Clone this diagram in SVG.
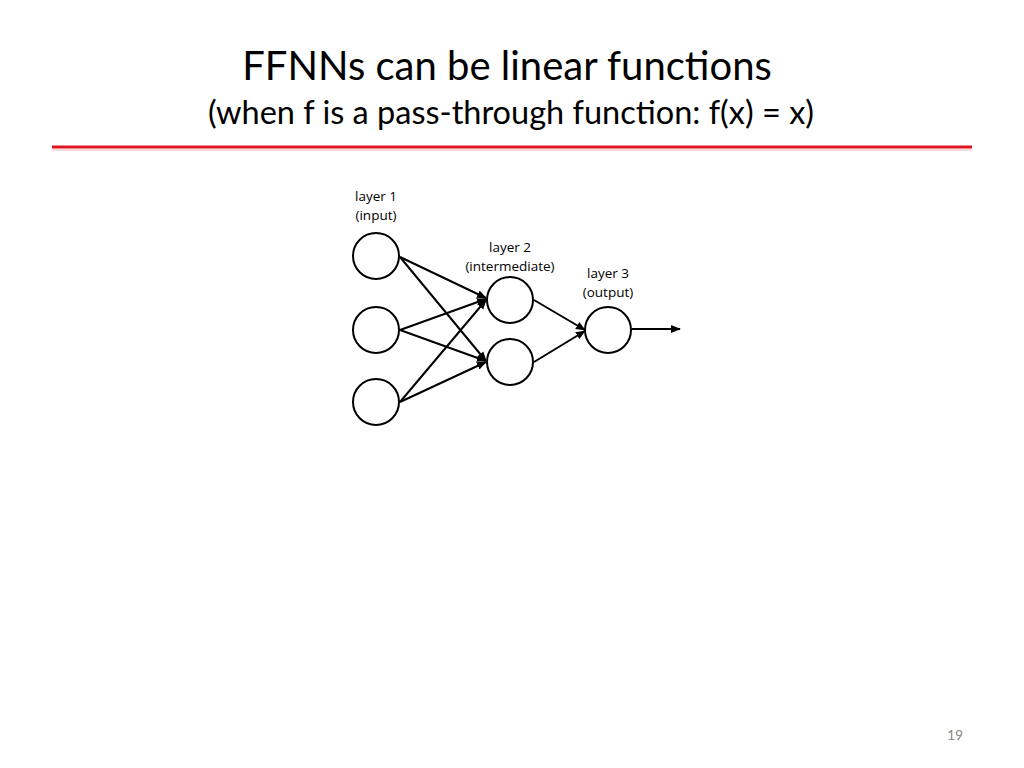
<svg xmlns="http://www.w3.org/2000/svg" width="1024" height="768" viewBox="0 0 1024 768">
<style>
.t{font-family:Lato,"Open Sans",sans-serif;fill:#000}
.n{fill:#fff;stroke:#000;stroke-width:2}
.e{stroke:#000;stroke-width:2;fill:none;marker-end:url(#a)}
.l{font-family:"Open Sans",sans-serif;font-size:13.5px;fill:#000;text-anchor:middle}
</style>
<defs><marker id="a" viewBox="0 0 10 10" refX="9" refY="5" markerWidth="5" markerHeight="5" orient="auto" markerUnits="strokeWidth"><path d="M0,1 L10,5 L0,9 z" fill="#000"/></marker></defs>
<rect width="1024" height="768" fill="#fff"/>
<text class="t" x="507" y="80" font-size="40" text-anchor="middle">FFNNs can be linear functions</text>
<text class="t" x="511" y="124" font-size="32.5" text-anchor="middle">(when f is a pass-through function: f(x) = x)</text>
<line x1="52" y1="147" x2="972" y2="147" stroke="#e0141e" stroke-width="3"/>
<line x1="52" y1="150" x2="972" y2="150" stroke="#f0b0b0" stroke-width="1"/>
<text class="t" x="955" y="740" font-size="14" text-anchor="middle" style="fill:#8a8a8a">19</text>
<g id="labels">
<text class="l" x="376" y="201">layer 1</text><text class="l" x="376" y="220">(input)</text>
<text class="l" x="510" y="252">layer 2</text><text class="l" x="510" y="271">(intermediate)</text>
<text class="l" x="608" y="278">layer 3</text><text class="l" x="608" y="297">(output)</text>
</g>
<g id="connectors">
<line class="e" x1="400" y1="257" x2="486" y2="298"/>
<line class="e" x1="400" y1="257" x2="486" y2="361"/>
<line class="e" x1="400" y1="330" x2="486" y2="299"/>
<line class="e" x1="400" y1="330" x2="486" y2="361"/>
<line class="e" x1="400" y1="402" x2="486" y2="300"/>
<line class="e" x1="400" y1="402" x2="486" y2="362"/>
<line class="e" x1="534" y1="300" x2="585" y2="330"/>
<line class="e" x1="534" y1="362" x2="585" y2="331"/>
<line class="e" x1="632" y1="329" x2="680" y2="329"/>
</g>
<g id="in1"><circle class="n" cx="376" cy="256" r="23"/></g>
<g id="in2"><circle class="n" cx="376" cy="330" r="23"/></g>
<g id="in3"><circle class="n" cx="376" cy="402" r="23"/></g>
<g id="h1"><circle class="n" cx="510" cy="300" r="23"/></g>
<g id="h2"><circle class="n" cx="510" cy="362" r="23"/></g>
<g id="out"><circle class="n" cx="608" cy="330" r="23"/></g>
</svg>
